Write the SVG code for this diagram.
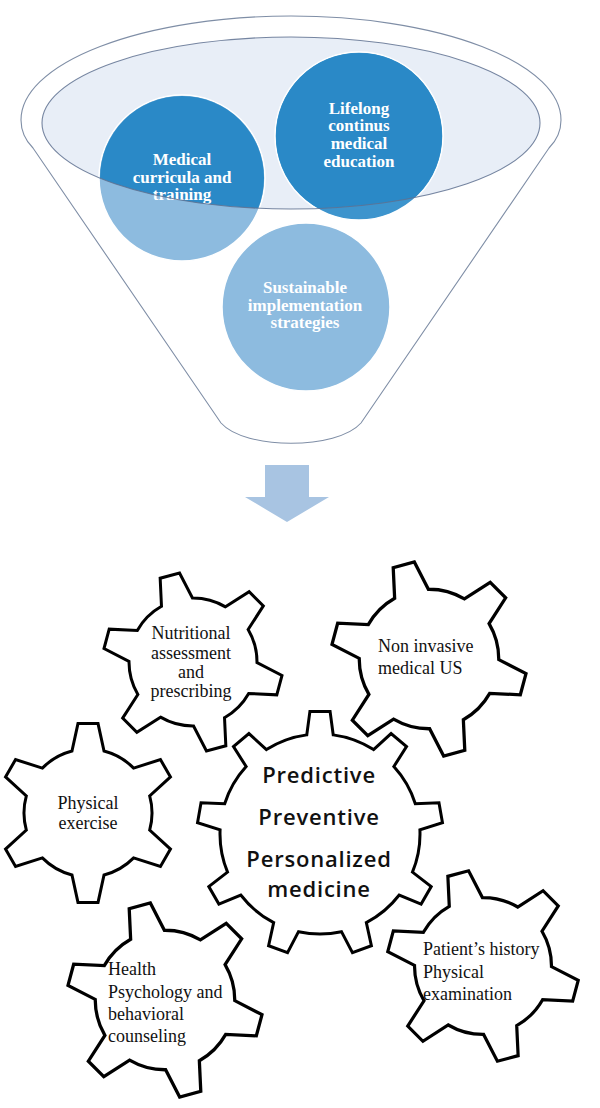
<svg xmlns="http://www.w3.org/2000/svg" xmlns:xlink="http://www.w3.org/1999/xlink" width="600" height="1108" viewBox="0 0 600 1108">
<style>
.funnel{fill:#ffffff;stroke:#7f8ea6;stroke-width:1.1}
.rim{fill:#e8eef7;stroke:none}
.rimline{fill:none;stroke:#5f7190;stroke-width:1.1}
.light{fill:#8dbbdf;stroke:#ffffff;stroke-width:1.5}
.mid{fill:#3d94cd;stroke:#ffffff;stroke-width:1.5}
.dark{fill:#2a89c7}
.ctext{font-family:"Liberation Serif",serif;font-weight:bold;font-size:17px;fill:#ffffff;text-anchor:middle}
.gear{fill:#ffffff;stroke:#000000;stroke-width:3;stroke-linejoin:miter}
.gtext{font-family:"Liberation Serif",serif;font-size:18px;fill:#111111}
.mtext{font-family:"Open Sans",sans-serif;font-weight:600;font-size:22px;letter-spacing:0.8px;fill:#111111;text-anchor:middle}
.arrow{fill:#a8c4e2}
</style>
<defs>
<clipPath id="ellipseClip"><ellipse cx="291" cy="123" rx="249" ry="86"/></clipPath>
<path id="gear6" d="M -16.02,-61.96 L -10.03,-89.44 L 10.03,-89.44 L 16.02,-61.96 A 64 64 0 0 1 45.65,-44.86 L 72.44,-53.41 L 82.47,-36.03 L 61.67,-17.10 A 64 64 0 0 1 61.67,17.10 L 82.47,36.03 L 72.44,53.41 L 45.65,44.86 A 64 64 0 0 1 16.02,61.96 L 10.03,89.44 L -10.03,89.44 L -16.02,61.96 A 64 64 0 0 1 -45.65,44.86 L -72.44,53.41 L -82.47,36.03 L -61.67,17.10 A 64 64 0 0 1 -61.67,-17.10 L -82.47,-36.03 L -72.44,-53.41 L -45.65,-44.86 A 64 64 0 0 1 -16.02,-61.96 Z"/>
<path id="gear9" d="M -13.23,-99.12 L -10.08,-122.59 L 10.08,-122.59 L 13.23,-99.12 A 100 100 0 0 1 53.58,-84.43 L 71.08,-100.39 L 86.52,-87.43 L 73.85,-67.43 A 100 100 0 0 1 95.32,-30.24 L 118.97,-31.21 L 122.47,-11.36 L 99.91,-4.19 A 100 100 0 0 1 92.46,38.11 L 111.20,52.57 L 101.12,70.02 L 79.23,61.02 A 100 100 0 0 1 46.33,88.62 L 51.40,111.75 L 32.46,118.64 L 21.47,97.67 A 100 100 0 0 1 -21.47,97.67 L -32.46,118.64 L -51.40,111.75 L -46.33,88.62 A 100 100 0 0 1 -79.23,61.02 L -101.12,70.02 L -111.20,52.57 L -92.46,38.11 A 100 100 0 0 1 -99.91,-4.19 L -122.47,-11.36 L -118.97,-31.21 L -95.32,-30.24 A 100 100 0 0 1 -73.85,-67.43 L -86.52,-87.43 L -71.08,-100.39 L -53.58,-84.43 A 100 100 0 0 1 -13.23,-99.12 Z"/>
</defs>
<rect width="600" height="1108" fill="#ffffff"/>

<g id="funnel">
<path class="funnel" d="M 33,148 C 25,140 21,130 21,120 A 270 104 0 0 1 561,120 C 561,130 557,140 549,148 L 361,423 C 337,450 245,450 221,423 Z"/>
<ellipse class="rim" cx="291" cy="123" rx="249" ry="86"/>
</g>

<g id="node-curricula">
<circle class="light" cx="182" cy="178" r="83"/>
<circle class="dark" cx="182" cy="178" r="82" clip-path="url(#ellipseClip)"/>
<text class="ctext" x="182" y="165">Medical</text>
<text class="ctext" x="182" y="183">curricula and</text>
<text class="ctext" x="182" y="200">training</text>
</g>

<g id="node-lifelong">
<circle class="mid" cx="359" cy="136" r="84"/>
<circle class="dark" cx="359" cy="136" r="83" clip-path="url(#ellipseClip)"/>
<text class="ctext" x="359" y="114">Lifelong</text>
<text class="ctext" x="359" y="131">continus</text>
<text class="ctext" x="359" y="149">medical</text>
<text class="ctext" x="359" y="167">education</text>
</g>

<g id="node-sustainable">
<circle class="light" cx="306" cy="307" r="84"/>
<text class="ctext" x="305" y="293">Sustainable</text>
<text class="ctext" x="305" y="311">implementation</text>
<text class="ctext" x="305" y="328">strategies</text>
</g>

<g id="funnel-rim-line">
<ellipse class="rimline" cx="291" cy="123" rx="249" ry="86" opacity="0.85"/>
</g>

<g id="connectors">
<polygon class="arrow" points="265,465 309,465 309,497 329,497 287,522 245,497 265,497"/>
</g>

<g id="node-nutritional">
<use xlink:href="#gear6" href="#gear6" class="gear" transform="translate(193,662) rotate(-15)"/>
<text class="gtext" x="191" y="639" text-anchor="middle">Nutritional</text>
<text class="gtext" x="191" y="659" text-anchor="middle">assessment</text>
<text class="gtext" x="191" y="678" text-anchor="middle">and</text>
<text class="gtext" x="191" y="697" text-anchor="middle">prescribing</text>
</g>

<g id="node-ultrasound">
<use xlink:href="#gear6" href="#gear6" class="gear" transform="translate(429,659) rotate(-15) scale(1.09)"/>
<text class="gtext" x="378" y="652">Non invasive</text>
<text class="gtext" x="378" y="674">medical US</text>
</g>

<g id="node-physical">
<use xlink:href="#gear6" href="#gear6" class="gear" transform="translate(88,813)"/>
<text class="gtext" x="88" y="809" text-anchor="middle">Physical</text>
<text class="gtext" x="88" y="829" text-anchor="middle">exercise</text>
</g>

<g id="node-center">
<use xlink:href="#gear9" href="#gear9" class="gear" transform="translate(320,834)"/>
<text class="mtext" x="319" y="783">Predictive</text>
<text class="mtext" x="319" y="825">Preventive</text>
<text class="mtext" x="319" y="867">Personalized</text>
<text class="mtext" x="319" y="897">medicine</text>
</g>

<g id="node-health">
<use xlink:href="#gear6" href="#gear6" class="gear" transform="translate(165,1000) rotate(-15) scale(1.09)"/>
<text class="gtext" x="108" y="975">Health</text>
<text class="gtext" x="108" y="998">Psychology and</text>
<text class="gtext" x="108" y="1020">behavioral</text>
<text class="gtext" x="108" y="1042">counseling</text>
</g>

<g id="node-patient">
<use xlink:href="#gear6" href="#gear6" class="gear" transform="translate(483,966) rotate(-15) scale(1.07)"/>
<text class="gtext" x="423" y="955">Patient’s history</text>
<text class="gtext" x="423" y="978">Physical</text>
<text class="gtext" x="423" y="1000">examination</text>
</g>
</svg>
